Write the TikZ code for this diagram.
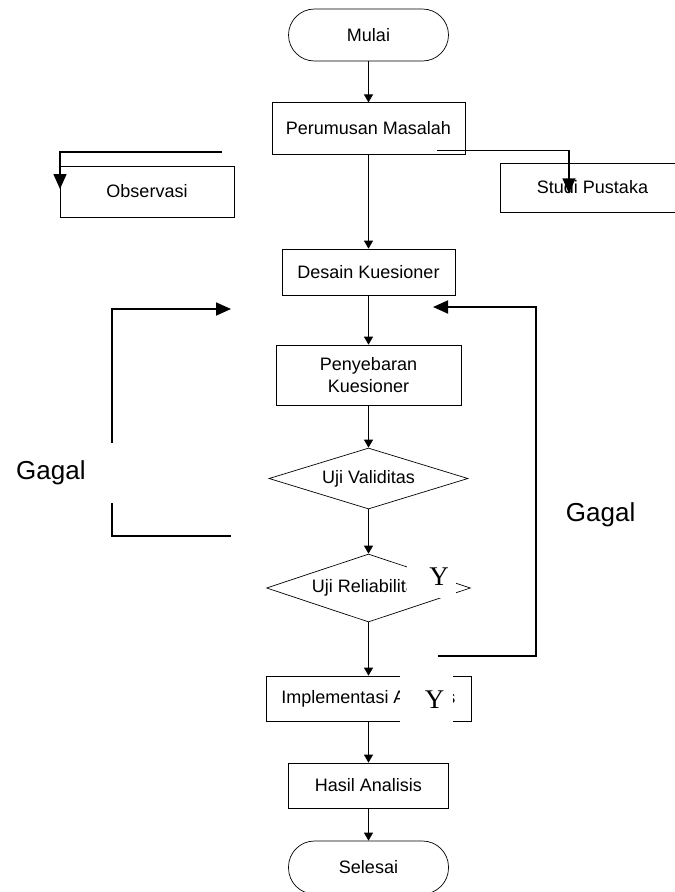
\documentclass[tikz,border=0pt]{standalone}
\usepackage{fontspec}
\setmainfont{Liberation Sans}
\newfontfamily\serifY{Liberation Serif}
\usetikzlibrary{shapes.geometric,arrows.meta}
\tikzset{
  box/.style={draw, line width=0.7pt, inner sep=0pt, align=center,
              font=\fontsize{18}{22}\selectfont},
  term/.style={box, rounded corners=26pt},
  decision/.style={box, diamond, aspect=3.26},
  flow/.style={line width=0.8pt, -{Triangle[length=8pt,width=9pt]}},
  loop/.style={line width=1.8pt},
  looparrow/.style={loop, -{Triangle[length=15pt,width=13pt]}},
  gagal/.style={font=\fontsize{26}{30}\selectfont, inner sep=0pt, anchor=base west},
  ylabel/.style={font=\serifY\fontsize{27}{30}\selectfont, inner sep=0pt, anchor=base},
  cover/.style={fill=white, draw=none}
}
\begin{document}
\begin{tikzpicture}[x=1pt,y=-1pt]
\useasboundingbox (0,0) rectangle (675,892);

% main column
\node[term, minimum width=160pt, minimum height=52pt] (mulai) at (368.5,35) {Mulai};
\node[box, minimum width=193pt, minimum height=51.5pt] (perumusan) at (368.5,128.5) {Perumusan Masalah};
\node[box, minimum width=174pt, minimum height=51pt] (observasi) at (147,191.5) {Observasi};
\node[box, minimum width=185pt, minimum height=49pt] (studi) at (592.5,187.5) {Studi Pustaka};
\node[box, minimum width=173pt, minimum height=46pt] (desain) at (368.5,272) {Desain Kuesioner};
\node[box, minimum width=185pt, minimum height=60pt] (penyebaran) at (368.5,375) {Penyebaran\\Kuesioner};
\node[decision, minimum width=199pt, minimum height=61pt] (validitas) at (368.5,478.5) {Uji Validitas};
\node[decision, minimum width=204pt, minimum height=68pt] (reliabilitas) at (368.5,588) {Uji Reliabilitas};
\node[box, minimum width=205pt, minimum height=45pt] (implementasi) at (368.5,698.5) {Implementasi Analisis};
\node[box, minimum width=160pt, minimum height=45pt] (hasil) at (368.5,785.5) {Hasil Analisis};
\node[term, minimum width=160pt, minimum height=53pt] (selesai) at (368.5,867.5) {Selesai};

% main flow
\draw[flow] (mulai) -- (perumusan);
\draw[flow] (perumusan) -- (desain);
\draw[flow] (desain) -- (penyebaran);
\draw[flow] (penyebaran) -- (validitas);
\draw[flow] (validitas) -- (reliabilitas);
\draw[flow] (reliabilitas) -- (implementasi);
\draw[flow] (implementasi) -- (hasil);
\draw[flow] (hasil) -- (selesai);

% side branches
\coordinate (obsA) at (222,152);
\coordinate (obsB) at (60,189);
\draw[loop, line width=1.5pt, -{Triangle[length=15pt,width=13pt]}] (obsA) -| (obsB);
\coordinate (stuA) at (437,150.3);
\coordinate (stuB) at (569,193.3);
\draw[loop, line width=1.5pt, -{Triangle[length=15pt,width=13pt]}] (stuA) -| (stuB);

% left loop
\coordinate (lA) at (112,443);
\coordinate (lB) at (231,309);
\coordinate (lC) at (112,503);
\coordinate (lD) at (231,536);
\draw[looparrow] (lA) |- (lB);
\draw[loop] (lC) |- (lD);
\node[gagal] (gagalL) at (16,479.3) {Gagal};

% right loop
\coordinate (rA) at (438,656);
\coordinate (rB) at (536,656);
\coordinate (rC) at (536,307);
\coordinate (rD) at (433,307);
\draw[looparrow] (rA) -- (rB) -- (rC) -- (rD);
\node[gagal] (gagalR) at (565.7,521.7) {Gagal};

% overlaid Y labels
\fill[cover] (407,555) rectangle (456,598);
\node[ylabel] (y1) at (439,585) {Y};
\fill[cover] (400,668) rectangle (453,728);
\node[ylabel] (y2) at (434.5,708) {Y};
\end{tikzpicture}
\end{document}
